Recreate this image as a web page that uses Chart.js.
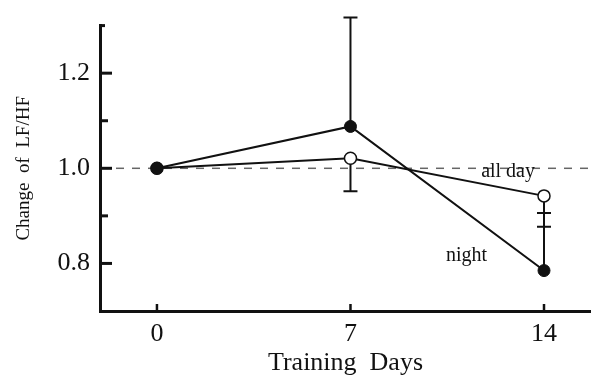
<!DOCTYPE html>
<html>
<head>
<meta charset="utf-8">
<script src="https://cdn.jsdelivr.net/npm/chart.js@4.4.1/dist/chart.umd.min.js"></script>
<style>
  html, body { margin: 0; padding: 0; background: #fff; }
  #wrap { width: 591px; height: 376px; position: relative; }
</style>
</head>
<body>
<div id="wrap"><canvas id="lfhfChart"></canvas></div>
<script>
// training days and mean change of LF/HF
const days = [0, 7, 14];
const allDay = [1.0, 1.021, 0.942];
const night = [1.0, 1.088, 0.785];
// one-sided error bars (end values)
const allDayLow = [null, 0.952, 0.877];
const nightHigh = [null, 1.317, 0.906];
const xTicks = [0, 7, 14];
const yMajor = [0.8, 1.0, 1.2];
const yMinor = [0.9, 1.1, 1.3];
const baseline = 1.0;
const seriesNames = ['all day', 'night'];

const serif = "'Liberation Serif', 'DejaVu Serif', serif";

const toPoints = (xs, ys) => xs.map((x, i) => ({ x: x, y: ys[i] }));

const figurePlugin = {
  id: 'figureBits',
  beforeDatasetsDraw(chart) {
    const { ctx, chartArea, scales } = chart;
    const y = scales.y.getPixelForValue(baseline);
    ctx.save();
    ctx.strokeStyle = '#666';
    ctx.lineWidth = 1.5;
    ctx.setLineDash([8, 8]);
    ctx.beginPath();
    ctx.moveTo(chartArea.left, y);
    ctx.lineTo(chartArea.right, y);
    ctx.stroke();
    ctx.restore();

    // error bars
    ctx.save();
    ctx.strokeStyle = '#111';
    ctx.lineWidth = 2;
    const drawBar = (means, ends) => {
      days.forEach((d, i) => {
        if (ends[i] == null) return;
        const px = scales.x.getPixelForValue(d);
        const y0 = scales.y.getPixelForValue(means[i]);
        const y1 = scales.y.getPixelForValue(ends[i]);
        ctx.beginPath();
        ctx.moveTo(px, y0);
        ctx.lineTo(px, y1);
        ctx.moveTo(px - 7, y1);
        ctx.lineTo(px + 7, y1);
        ctx.stroke();
      });
    };
    drawBar(allDay, allDayLow);
    drawBar(night, nightHigh);
    ctx.restore();
  },
  afterDraw(chart) {
    const { ctx, chartArea, scales } = chart;
    ctx.save();
    ctx.strokeStyle = '#111';
    ctx.lineWidth = 3;
    // inward ticks on y axis
    yMajor.concat(yMinor).forEach(v => {
      const py = scales.y.getPixelForValue(v);
      const major = yMajor.includes(v);
      const len = major ? 12 : (v >= 1.3 ? 5 : 8);
      ctx.beginPath();
      ctx.moveTo(chartArea.left, py);
      ctx.lineTo(chartArea.left + len, py);
      ctx.stroke();
    });
    // inward ticks on x axis
    ctx.lineWidth = 2.5;
    xTicks.forEach(v => {
      const px = scales.x.getPixelForValue(v);
      ctx.beginPath();
      ctx.moveTo(px, chartArea.bottom);
      ctx.lineTo(px, chartArea.bottom - 7);
      ctx.stroke();
    });
    // series labels
    ctx.fillStyle = '#111';
    ctx.font = '20px ' + serif;
    ctx.textAlign = 'center';
    ctx.textBaseline = 'middle';
    ctx.fillText(seriesNames[0], scales.x.getPixelForValue(12.7), scales.y.getPixelForValue(0.992));
    ctx.fillText(seriesNames[1], scales.x.getPixelForValue(11.2), scales.y.getPixelForValue(0.817));
    ctx.restore();
  }
};

const ctx = document.getElementById('lfhfChart').getContext('2d');
const lfhfChart = new Chart(ctx, {
  type: 'line',
  data: {
    datasets: [
      {
        label: 'night',
        data: toPoints(days, night),
        borderColor: '#111',
        borderWidth: 2,
        pointRadius: 6,
        pointBorderWidth: 1,
        pointBackgroundColor: '#111',
        pointBorderColor: '#111',
        tension: 0,
        clip: false
      },
      {
        label: 'all day',
        data: toPoints(days, allDay),
        borderColor: '#111',
        borderWidth: 2,
        pointRadius: 6,
        pointBorderWidth: 1.5,
        pointBackgroundColor: '#fff',
        pointBorderColor: '#111',
        tension: 0,
        clip: false
      }
    ]
  },
  options: {
    responsive: true,
    maintainAspectRatio: false,
    animation: false,
    events: [],
    layout: { autoPadding: false, padding: { top: 22, right: 0, left: 0, bottom: 0 } },
    plugins: {
      legend: { display: false },
      tooltip: { enabled: false }
    },
    scales: {
      x: {
        type: 'linear',
        min: -2.06,
        max: 15.7,
        afterBuildTicks: scale => { scale.ticks = xTicks.map(v => ({ value: v })); },
        afterFit: scale => { scale.height = 65; },
        grid: { display: true, drawOnChartArea: false, drawTicks: false },
        border: { display: true, color: '#111', width: 3 },
        ticks: {
          color: '#111',
          padding: 8,
          maxRotation: 0,
          font: { family: serif, size: 26 }
        },
        title: {
          display: true,
          text: 'Training  Days',
          color: '#111',
          padding: { top: 0, bottom: -3 },
          font: { family: serif, size: 26 }
        }
      },
      y: {
        min: 0.7,
        max: 1.3,
        afterBuildTicks: scale => { scale.ticks = yMajor.map(v => ({ value: v })); },
        afterFit: scale => { scale.width = 100; },
        grid: { display: true, drawOnChartArea: false, drawTicks: false },
        border: { display: true, color: '#111', width: 3 },
        ticks: {
          color: '#111',
          padding: 10,
          font: { family: serif, size: 26 },
          callback: v => v.toFixed(1)
        },
        title: {
          display: true,
          text: 'Change  of  LF/HF',
          color: '#111',
          padding: { top: 13, bottom: 0 },
          font: { family: serif, size: 19 }
        }
      }
    }
  },
  plugins: [figurePlugin]
});
</script>
</body>
</html>
